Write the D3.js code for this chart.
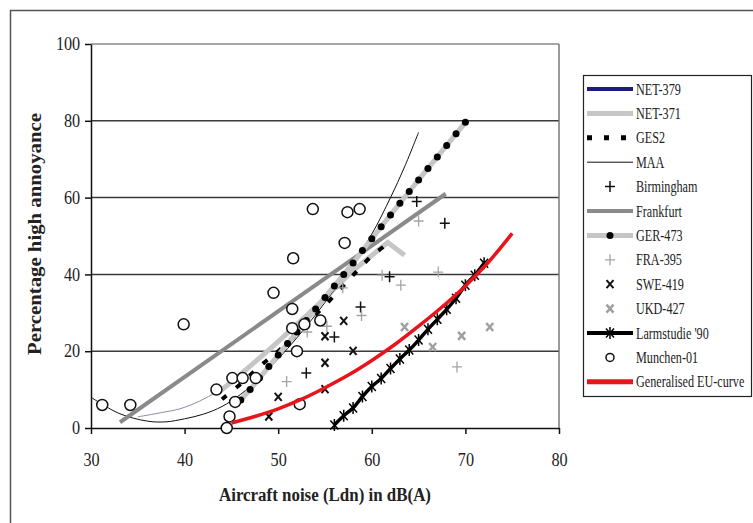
<!DOCTYPE html>
<html>
<head>
<meta charset="utf-8">
<script src="https://cdn.jsdelivr.net/npm/d3@7"></script>
<style>
  body { margin: 0; background: #fff; }
  svg text { font-family: "Liberation Serif", serif !important; fill: #222; }
  .axis path, .axis line { stroke: #111; stroke-width: 1.5; }
</style>
</head>
<body>
<script>
// data, [Ldn dB(A), % highly annoyed]
var xTicks = [30, 40, 50, 60, 70, 80];
var yTicks = [0, 20, 40, 60, 80, 100];

var net379 = [[35, 2.9], [37.5, 4], [39.5, 5], [41.6, 7], [43.5, 9.5], [45.5, 12.5]];
var net371 = [[43.5, 9], [46, 14], [50, 22.5], [54, 31.5], [58, 41], [61.7, 48.3], [63.5, 45]];
var ges2 = [[44, 7.5], [46, 11.5], [48, 16], [50, 20], [52, 24.5], [54, 29.5], [56, 34.5], [58, 39.8], [60, 44.8], [62, 48.5]];
var maa = [[30, 8], [33, 3.8], [36, 1.8], [38, 1.6], [40, 2.4], [42, 3.6], [44, 5.6], [46, 8.8], [48, 13], [50, 18], [52, 23.5], [54, 29.5], [56, 36], [58, 43], [60, 50.5], [62, 60], [63.5, 68], [65, 77]];
var birmingham = [[53, 14.3], [56, 23.7], [58.8, 31.5], [61.9, 39.4], [64.8, 59], [67.8, 53.3]];
var frankfurt = [[33.1, 1.5], [67.9, 61]];
var ger473 = [[46, 7.3], [47, 10], [48, 13], [49, 16], [50, 19], [51, 22], [52, 25], [53, 28], [54, 31], [55, 34], [56, 37], [57, 40], [58, 43], [59, 46.2], [60, 49.3], [61, 52.4], [62, 55.5], [63, 58.5], [64, 61.6], [65, 64.6], [66, 67.6], [67, 70.6], [68, 73.6], [69, 76.6], [70, 79.6]];
var fra395 = [[50.9, 12.1], [53.1, 25], [55.2, 26.5], [56.9, 36.5], [58.9, 29.3], [61.1, 39.8], [63.1, 37.2], [65, 53.9], [67.1, 40.6], [69.1, 15.9]];
var swe419 = [[49, 3], [50, 8.1], [55, 23.9], [55, 17], [55, 10.1], [57, 27.9], [58, 20.1]];
var ukd427 = [[63.5, 26.3], [66.5, 21.1], [69.6, 24], [72.6, 26.3]];
var larmstudie = [[56, 0.8], [57, 3.2], [58, 5.2], [59, 8.2], [60, 10.8], [61, 12.9], [62, 15.5], [63, 18], [64, 20.3], [65, 22.9], [66, 25.7], [67, 28.3], [68, 30.9], [69, 33.8], [70, 37.2], [71, 39.8], [72, 42.9]];
var munchen = [[31.2, 6], [34.2, 6], [39.9, 27], [43.4, 10], [44.5, 0], [44.8, 3], [45.1, 13], [45.4, 6.8], [46.2, 13], [47.6, 13], [49.5, 35.2], [51.5, 31], [51.5, 26], [51.6, 44.2], [52, 20], [52.3, 6.2], [52.8, 27], [53.7, 57], [54.5, 28], [57.1, 48.2], [57.4, 56.2], [58.7, 57]];
var euCurve = [[45, 1.3], [47.5, 3], [50, 5], [52.5, 7.5], [55, 10.5], [57.5, 13.8], [60, 17.6], [62.5, 21.8], [65, 26.5], [67.5, 31.5], [70, 37], [72.5, 43.3], [75, 50.7]];

var legendNames = ["NET-379", "NET-371", "GES2", "MAA", "Birmingham", "Frankfurt", "GER-473",
  "FRA-395", "SWE-419", "UKD-427", "Larmstudie '90", "Munchen-01", "Generalised EU-curve"];

// how each series is drawn
var series = {
  "NET-379": {data: net379, line: {stroke: "#8c8ca6", w: 1}, legendLine: {stroke: "#1c1c7a", w: 1.5}, curve: true},
  "NET-371": {data: net371, line: {stroke: "#c6c6c6", w: 5}},
  "GES2": {data: ges2, line: {stroke: "#000", w: 4, dash: "6,12"}, legendLine: {stroke: "#000", w: 5, dash: "5,12"}, curve: true},
  "MAA": {data: maa, line: {stroke: "#111", w: 1}, curve: true},
  "Birmingham": {data: birmingham, marker: "plus", color: "#111", mw: 1.5},
  "Frankfurt": {data: frankfurt, line: {stroke: "#8a8a8a", w: 4}},
  "GER-473": {data: ger473, line: {stroke: "#c6c6c6", w: 5}, marker: "dot", color: "#000"},
  "FRA-395": {data: fra395, marker: "plus", color: "#a4a4a4", mw: 1.3},
  "SWE-419": {data: swe419, marker: "cross", color: "#111", mw: 2},
  "UKD-427": {data: ukd427, marker: "cross", color: "#a0a0a0", mw: 2.5},
  "Larmstudie '90": {data: larmstudie, line: {stroke: "#000", w: 3.5}, marker: "star", color: "#000", mw: 1.5, curve: true},
  "Munchen-01": {data: munchen, marker: "circle", color: "#111", mw: 1.5},
  "Generalised EU-curve": {data: euCurve, line: {stroke: "#e8141c", w: 3.5}, legendLine: {stroke: "#e8141c", w: 5}, curve: true}
};

var width = 753, height = 523;

var svg = d3.select("body").append("svg")
    .attr("width", width)
    .attr("height", height);

// outer frame of the figure
svg.append("rect")
    .attr("x", 10.5).attr("y", 10.5)
    .attr("width", 800).attr("height", 600)
    .attr("fill", "none").attr("stroke", "#555").attr("stroke-width", 1.5);

var x = d3.scaleLinear().domain([30, 80]).range([91, 559]);
var y = d3.scaleLinear().domain([0, 100]).range([428, 44]);

// gridlines
svg.append("g").selectAll("line")
    .data(yTicks.slice(1))
  .enter().append("line")
    .attr("x1", x(30)).attr("x2", x(80))
    .attr("y1", function(d) { return y(d); })
    .attr("y2", function(d) { return y(d); })
    .attr("stroke", function(d) { return d == 100 ? "#888" : "#3a3a3a"; })
    .attr("stroke-width", 1.5);

// right edge of plot area
svg.append("line")
    .attr("x1", x(80)).attr("x2", x(80))
    .attr("y1", y(100)).attr("y2", y(0))
    .attr("stroke", "#777").attr("stroke-width", 1.5);

var gx = svg.append("g")
    .attr("class", "axis")
    .attr("transform", "translate(0," + y(0) + ")")
    .call(d3.axisBottom(x).tickValues(xTicks).tickSize(6).tickSizeOuter(0).tickPadding(19));

var gy = svg.append("g")
    .attr("class", "axis")
    .attr("transform", "translate(" + x(30) + ",0)")
    .call(d3.axisLeft(y).tickValues(yTicks).tickSize(6).tickSizeOuter(0).tickPadding(6));

svg.selectAll(".axis").attr("font-family", null);
svg.selectAll(".axis text")
    .attr("font-size", 18)
    .attr("fill", "#222")
    .attr("transform", "scale(0.9,1)");

// marker shapes
function drawMarker(g, s) {
  if (s.marker == "plus") {
    g.append("path").attr("d", "M-5,0H5M0,-5.5V5.5")
      .attr("stroke", s.color).attr("stroke-width", s.mw).attr("fill", "none");
  } else if (s.marker == "cross") {
    g.append("path").attr("d", "M-3.5,-4L3.5,4M-3.5,4L3.5,-4")
      .attr("stroke", s.color).attr("stroke-width", s.mw).attr("fill", "none");
  } else if (s.marker == "star") {
    g.append("path").attr("d", "M-4,-4.5L4,4.5M-4,4.5L4,-4.5M0,-6V6")
      .attr("stroke", s.color).attr("stroke-width", s.mw).attr("fill", "none");
  } else if (s.marker == "circle") {
    g.append("circle").attr("r", s.r || 5.5)
      .attr("fill", "#fff").attr("stroke", s.color).attr("stroke-width", s.mw);
  } else if (s.marker == "dot") {
    g.append("circle").attr("r", 3.5).attr("fill", s.color);
  }
}

var plot = svg.append("g");

legendNames.forEach(function(name) {
  var s = series[name];
  if (s.line) {
    var line = d3.line()
        .x(function(d) { return x(d[0]); })
        .y(function(d) { return y(d[1]); })
        .curve(s.curve ? d3.curveCatmullRom : d3.curveLinear);
    plot.append("path")
        .datum(s.data)
        .attr("d", line)
        .attr("fill", "none")
        .attr("stroke", s.line.stroke)
        .attr("stroke-width", s.line.w)
        .attr("stroke-dasharray", s.line.dash || null);
  }
  if (s.marker) {
    plot.append("g").selectAll("g")
        .data(s.data)
      .enter().append("g")
        .attr("transform", function(d) { return "translate(" + x(d[0]) + "," + y(d[1]) + ")"; })
        .each(function() { drawMarker(d3.select(this), s); });
  }
});

// axis titles
svg.append("text")
    .attr("x", 325).attr("y", 501)
    .attr("text-anchor", "middle")
    .attr("font-size", 18).attr("font-weight", "bold")
    .attr("textLength", 212).attr("lengthAdjust", "spacingAndGlyphs")
    .text("Aircraft noise (Ldn) in dB(A)");

svg.append("text")
    .attr("transform", "translate(41,234)rotate(-90)")
    .attr("text-anchor", "middle")
    .attr("font-size", 18).attr("font-weight", "bold")
    .attr("textLength", 242).attr("lengthAdjust", "spacingAndGlyphs")
    .text("Percentage high annoyance");

// legend
var legend = svg.append("g");
legend.append("rect")
    .attr("x", 583.5).attr("y", 75.5)
    .attr("width", 168).attr("height", 321)
    .attr("fill", "#fff").attr("stroke", "#222").attr("stroke-width", 1.2);

var item = legend.selectAll(".item")
    .data(legendNames)
  .enter().append("g")
    .attr("class", "item")
    .attr("transform", function(d, i) { return "translate(0," + (89 + i * 24.4) + ")"; });

item.each(function(name) {
  var g = d3.select(this), s = series[name];
  if (s.line) {
    var ls = s.legendLine || s.line;
    g.append("line")
        .attr("x1", 587).attr("x2", 633)
        .attr("stroke", ls.stroke)
        .attr("stroke-width", name == "MAA" ? 1 : Math.max(ls.w, 4))
        .attr("stroke-dasharray", ls.dash || null);
  }
  if (s.marker) {
    var m = g.append("g").attr("transform", "translate(610,0)");
    drawMarker(m, s.marker == "circle" ? {marker: "circle", color: s.color, mw: 1.5, r: 4} : s);
  }
  g.append("text")
      .attr("transform", "translate(636,5.5) scale(0.76,1)")
      .attr("font-size", 16)
      .text(name);
});
</script>
</body>
</html>
